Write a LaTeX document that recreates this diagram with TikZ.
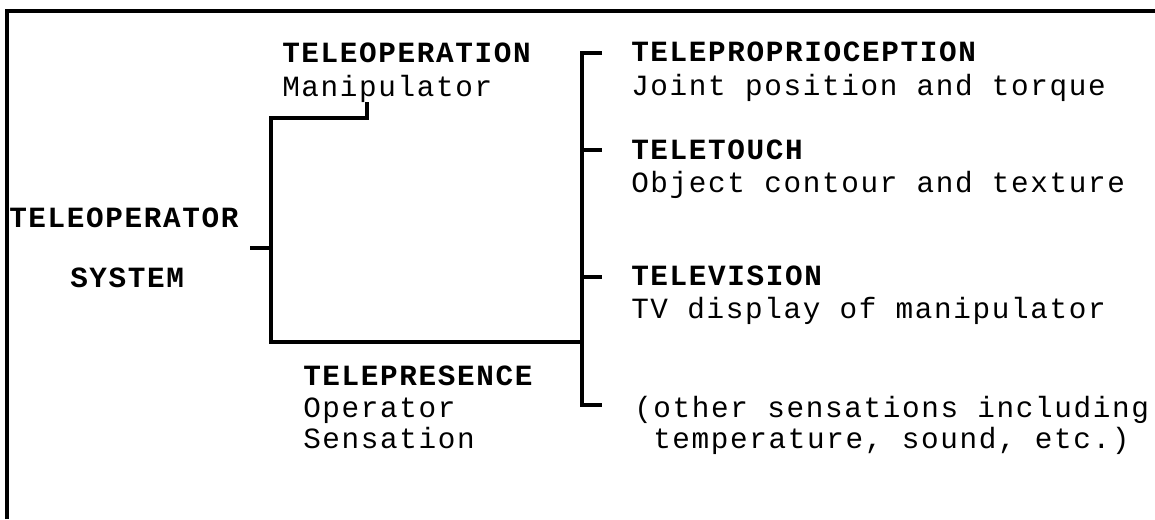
\documentclass[tikz,border=0pt]{standalone}
\usepackage{fontspec}
\setmonofont[LetterSpace=5.6]{Liberation Mono}
\begin{document}
\begin{tikzpicture}[x=0.75pt,y=-0.75pt,
  hd/.style={font=\ttfamily\bfseries\fontsize{22}{30}\selectfont, inner sep=0pt, anchor=base west},
  tx/.style={font=\ttfamily\fontsize{22}{30}\selectfont, inner sep=0pt, anchor=base west},
  wire/.style={line width=2.3pt, draw=black}]
\useasboundingbox (0,0) rectangle (1155,519);
% frame (top and left edges)
\coordinate (fbl) at (7,519);
\coordinate (ftl) at (7,11);
\coordinate (ftr) at (1155,11);
\draw[wire] (fbl) -- (ftl) -- (ftr);

% left labels
\node[hd] (sysA) at (9,227) {TELEOPERATOR};
\node[hd] (sysB) at (70,287) {SYSTEM};
\node[hd] (opH) at (282,62) {TELEOPERATION};
\node[tx] (opT) at (282,96) {Manipulator};
\node[hd] (prH) at (303,385) {TELEPRESENCE};
\node[tx] (prT1) at (303,417) {Operator};
\node[tx] (prT2) at (303,448) {Sensation};

% right labels
\node[hd] (ppH) at (631,61) {TELEPROPRIOCEPTION};
\node[tx] (ppT) at (631,95) {Joint position and torque};
\node[hd] (tcH) at (631,159) {TELETOUCH};
\node[tx] (tcT) at (631,192) {Object contour and texture};
\node[hd] (tvH) at (631,285) {TELEVISION};
\node[tx] (tvT) at (631,318) {TV display of manipulator};
\node[tx] (otT1) at (634,417) {(other sensations including};
\node[tx] (otT2) at (653,448) {temperature, sound, etc.)};

% bracket coordinates
\coordinate (stub) at (367,102);
\coordinate (lt) at (271,118);
\coordinate (lb) at (271,342);
\coordinate (sysTick) at (250,248);
\coordinate (join) at (582,342);
\coordinate (rt) at (582,53);
\coordinate (rb) at (582,405);
\coordinate (r2) at (582,150);
\coordinate (r3) at (582,277);

% left bracket
\draw[wire] (stub) |- (lt) -- (lb) -- (join);
\draw[wire] (sysTick) -- (sysTick -| lt);

% right bracket
\draw[wire] ([xshift=15pt]rt) -- (rt) -- (rb) -- ([xshift=15pt]rb);
\draw[wire] (r2) -- ([xshift=15pt]r2);
\draw[wire] (r3) -- ([xshift=15pt]r3);
\end{tikzpicture}
\end{document}
